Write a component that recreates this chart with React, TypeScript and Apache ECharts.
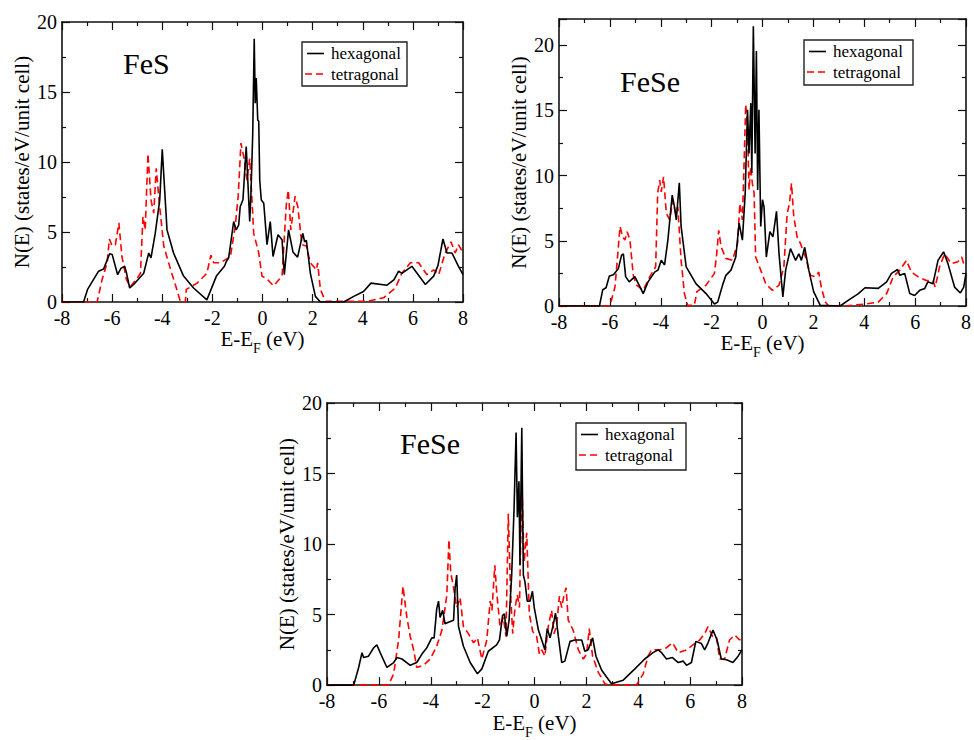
import React, { useEffect, useRef } from 'react';
import * as echarts from 'echarts';

const FONT = 'Liberation Serif';

const seriesNames = ['hexagonal', 'tetragonal'];
const panelTitles = ['FeS', 'FeSe', 'FeSe'];
const xRange = [-8, 8];
const yMaxes = [20, 22, 20];

// Panel 1: FeS
const fesHex: number[][] = [[-8,0],[-7.14,0],[-6.98,0.9],[-6.54,2.2],[-6.34,2.35],[-6.1,3.45],[-6.0,3.4],[-5.78,1.95],[-5.65,2.4],[-5.5,2.55],[-5.43,2.1],[-5.3,1.0],[-5.14,1.25],[-4.74,2.05],[-4.54,3.5],[-4.45,3.15],[-4.28,4.9],[-4.1,7.3],[-4.0,10.9],[-3.92,8.5],[-3.81,5.15],[-3.55,3.5],[-3.15,1.85],[-2.75,1.0],[-2.22,0.15],[-1.84,1.85],[-1.52,2.55],[-1.44,2.9],[-1.35,3.15],[-1.15,5.75],[-1.05,5.15],[-0.95,5.5],[-0.89,6.8],[-0.78,7.3],[-0.65,11.1],[-0.6,9.2],[-0.51,5.75],[-0.46,7.75],[-0.39,12.0],[-0.33,18.8],[-0.29,14.2],[-0.25,16.0],[-0.19,13.0],[-0.15,12.9],[-0.11,8.7],[-0.05,7.3],[0.05,7.05],[0.18,4.1],[0.31,5.75],[0.42,3.25],[0.62,4.8],[0.78,4.45],[0.87,1.95],[1.04,5.15],[1.22,3.55],[1.4,3.2],[1.61,4.9],[1.68,4.3],[1.75,4.4],[1.91,2.05],[2.11,0.4],[2.31,0],[3.24,0],[3.64,0.4],[4.03,0.75],[4.33,1.35],[4.97,1.2],[5.25,1.6],[5.43,2.2],[5.56,2.05],[5.96,2.55],[6.5,1.25],[6.83,1.85],[7.0,2.6],[7.2,4.5],[7.36,3.5],[7.56,3.5],[7.82,2.55],[8.0,1.95]];
const fesTet: number[][] = [[-8,0],[-6.6,0],[-6.4,1.6],[-6.2,2.8],[-6.11,4.5],[-6.0,4.0],[-5.87,4.1],[-5.73,5.65],[-5.61,3.25],[-5.43,1.6],[-5.27,1.1],[-5.0,1.7],[-4.87,2.05],[-4.77,6.1],[-4.68,5.15],[-4.57,10.6],[-4.45,7.3],[-4.34,6.35],[-4.24,9.55],[-4.13,7.3],[-3.94,4.0],[-3.68,2.4],[-3.48,1.25],[-3.28,0.05],[-3.08,0],[-3.04,0.9],[-2.61,1.35],[-2.22,2.05],[-2.06,3.35],[-1.95,2.8],[-1.68,2.8],[-1.28,3.25],[-1.09,5.4],[-0.97,7.55],[-0.86,11.35],[-0.75,10.4],[-0.62,8.7],[-0.51,10.25],[-0.46,8.6],[-0.35,4.9],[-0.15,3.5],[-0.02,1.85],[0.18,1.65],[0.44,1.15],[0.78,1.85],[0.95,6.95],[1.03,8.0],[1.13,5.15],[1.3,7.55],[1.41,6.8],[1.57,4.1],[1.75,4.0],[1.91,2.8],[2.15,2.3],[2.2,2.8],[2.31,0.9],[2.51,0.05],[4.17,0.05],[4.83,0.3],[5.3,1.0],[5.56,2.05],[5.9,2.8],[6.23,2.8],[6.56,1.95],[6.83,2.3],[7.03,1.95],[7.29,3.5],[7.52,4.3],[7.69,3.5],[7.82,4.1],[8.0,3.5]];

// Panel 2: FeSe (upper right)
const fese1Hex: number[][] = [[-8,0],[-6.41,0],[-6.28,1.25],[-6.15,1.4],[-6.02,2.3],[-5.86,2.4],[-5.67,2.85],[-5.54,3.9],[-5.47,4.0],[-5.38,2.25],[-5.24,1.85],[-5.02,2.25],[-4.85,1.6],[-4.69,0.95],[-4.5,1.85],[-4.24,2.6],[-4.11,2.75],[-3.98,3.5],[-3.85,3.15],[-3.72,5.05],[-3.55,8.5],[-3.46,7.6],[-3.39,6.6],[-3.27,9.45],[-3.2,6.1],[-3.0,3.0],[-2.61,1.7],[-2.22,0.95],[-1.89,0.15],[-1.76,0.3],[-1.57,1.6],[-1.44,2.35],[-1.24,2.75],[-1.05,3.75],[-0.92,6.35],[-0.79,5.05],[-0.68,8.65],[-0.59,15.05],[-0.53,11.7],[-0.46,15.55],[-0.42,10.2],[-0.36,21.45],[-0.29,11.7],[-0.24,19.55],[-0.19,8.9],[-0.14,15.05],[-0.07,6.1],[0.0,8.15],[0.06,7.6],[0.15,3.75],[0.29,5.7],[0.41,5.3],[0.55,7.25],[0.65,4.0],[0.8,0.7],[0.91,2.75],[1.1,4.4],[1.3,3.5],[1.43,4.0],[1.53,3.5],[1.66,4.5],[1.82,2.75],[2.01,1.1],[2.27,0.05],[3.05,0],[3.38,0.45],[3.77,0.95],[4.03,1.4],[4.55,1.35],[4.88,1.85],[5.07,2.5],[5.31,2.8],[5.4,2.35],[5.59,2.5],[5.79,0.95],[5.98,0.8],[6.18,1.2],[6.38,1.35],[6.5,1.85],[6.7,1.7],[6.9,3.5],[7.12,4.15],[7.29,3.25],[7.55,1.45],[7.78,1.0],[7.91,1.45],[8.0,2.5]];
const fese1Tet: number[][] = [[-8,0],[-6.0,0],[-5.8,1.45],[-5.71,3.5],[-5.6,6.1],[-5.5,5.3],[-5.41,5.05],[-5.32,5.7],[-5.21,5.05],[-5.08,2.35],[-4.95,1.6],[-4.69,1.2],[-4.43,2.25],[-4.2,3.0],[-4.12,8.65],[-4.04,9.65],[-3.98,8.75],[-3.89,9.9],[-3.78,7.1],[-3.65,6.6],[-3.52,8.1],[-3.42,7.1],[-3.33,7.6],[-3.2,3.5],[-3.07,0.95],[-2.94,0.05],[-2.68,0.05],[-2.58,1.1],[-2.22,1.6],[-1.89,2.5],[-1.8,4.0],[-1.72,5.8],[-1.63,4.55],[-1.44,3.65],[-1.18,3.5],[-0.98,4.8],[-0.89,7.85],[-0.79,6.6],[-0.72,11.2],[-0.66,15.45],[-0.59,13.75],[-0.53,8.9],[-0.46,10.7],[-0.4,9.4],[-0.33,8.65],[-0.27,3.75],[-0.07,2.75],[0.13,1.7],[0.39,1.2],[0.65,1.6],[0.84,3.0],[0.97,7.1],[1.06,7.85],[1.14,9.4],[1.23,6.85],[1.36,5.3],[1.49,4.8],[1.69,3.75],[1.88,2.35],[2.08,2.25],[2.21,2.6],[2.31,1.45],[2.47,0.3],[2.6,0],[3.25,0],[4.03,0.15],[4.55,0.3],[4.88,0.95],[5.14,2.25],[5.4,2.75],[5.66,3.5],[5.85,2.6],[6.11,2.25],[6.44,1.95],[6.7,1.95],[6.79,1.45],[6.96,3.0],[7.16,4.0],[7.42,3.25],[7.68,3.4],[7.83,3.75],[7.91,3.25],[8.0,3.4]];

// Panel 3: FeSe (bottom)
const fese2Hex: number[][] = [[-8,0],[-6.97,0],[-6.78,1.25],[-6.65,2.3],[-6.59,1.95],[-6.4,2.05],[-6.2,2.65],[-6.08,2.85],[-5.95,2.3],[-5.69,1.25],[-5.43,1.6],[-5.3,1.95],[-5.11,1.85],[-4.79,1.4],[-4.54,1.6],[-4.34,2.2],[-4.15,2.65],[-3.96,3.35],[-3.87,3.35],[-3.77,5.4],[-3.7,5.95],[-3.64,4.8],[-3.54,5.3],[-3.45,4.35],[-3.32,4.45],[-3.12,4.6],[-3.06,6.9],[-3.0,7.8],[-2.93,4.15],[-2.74,2.75],[-2.48,1.6],[-2.2,0.8],[-2.03,1.15],[-1.78,2.4],[-1.46,2.85],[-1.35,3.2],[-1.23,4.95],[-1.16,5.05],[-1.07,3.45],[-0.98,4.6],[-0.88,7.8],[-0.79,12.4],[-0.71,17.9],[-0.66,11.9],[-0.6,14.45],[-0.56,8.5],[-0.49,18.25],[-0.43,7.8],[-0.37,7.35],[-0.28,5.95],[-0.17,5.95],[-0.08,6.65],[-0.01,5.5],[0.15,3.9],[0.28,3.2],[0.4,2.5],[0.49,4.0],[0.6,3.35],[0.72,4.25],[0.81,5.1],[0.92,3.45],[1.05,1.6],[1.17,1.7],[1.37,3.1],[1.56,3.2],[1.82,3.2],[1.94,2.4],[2.07,2.5],[2.24,3.35],[2.37,2.05],[2.59,1.05],[2.97,0.1],[3.42,0.35],[3.87,1.15],[4.25,1.85],[4.57,2.3],[4.77,2.5],[4.9,2.3],[5.09,1.85],[5.32,1.95],[5.54,1.6],[5.73,1.7],[5.86,1.4],[6.05,1.6],[6.22,3.1],[6.43,2.95],[6.56,2.5],[6.69,3.0],[6.88,3.9],[7.04,3.2],[7.2,1.85],[7.4,1.8],[7.65,1.6],[7.85,2.05],[8.0,2.5]];
const fese2Tet: number[][] = [[-8,0],[-5.63,0],[-5.43,0.8],[-5.24,3.2],[-5.07,7.0],[-4.92,4.8],[-4.79,3.45],[-4.66,2.5],[-4.54,1.25],[-4.28,1.4],[-4.02,1.85],[-3.77,2.75],[-3.57,3.9],[-3.48,5.05],[-3.38,6.4],[-3.3,10.3],[-3.23,8.0],[-3.12,6.9],[-3.0,5.5],[-2.87,6.2],[-2.74,4.15],[-2.55,3.65],[-2.35,3.0],[-2.2,3.35],[-2.03,1.85],[-1.84,3.2],[-1.71,5.95],[-1.64,5.3],[-1.53,8.5],[-1.46,6.65],[-1.33,4.15],[-1.2,4.8],[-1.1,3.45],[-1.01,12.15],[-0.92,6.4],[-0.84,3.65],[-0.75,5.5],[-0.66,6.4],[-0.58,5.5],[-0.49,14.35],[-0.4,8.7],[-0.3,10.8],[-0.2,5.05],[-0.07,3.8],[0.08,3.45],[0.19,2.2],[0.28,2.5],[0.4,2.05],[0.53,4.15],[0.66,5.3],[0.75,3.65],[0.85,4.15],[0.96,6.3],[1.05,5.5],[1.14,6.4],[1.22,6.9],[1.3,4.6],[1.49,3.9],[1.69,2.5],[1.88,1.85],[2.01,2.2],[2.11,4.0],[2.24,2.05],[2.46,0.9],[2.71,0.1],[2.9,0],[3.93,0],[4.19,0.8],[4.38,2.05],[4.51,2.5],[4.83,2.5],[5.09,2.65],[5.32,3.0],[5.54,2.3],[5.86,2.5],[6.11,2.85],[6.37,3.2],[6.56,3.65],[6.69,4.15],[6.86,3.45],[7.01,3.45],[7.14,1.85],[7.33,1.85],[7.52,3.2],[7.72,3.55],[7.91,3.2],[8.0,3.45]];

const panelHex = [fesHex, fese1Hex, fese2Hex];
const panelTet = [fesTet, fese1Tet, fese2Tet];

const grids = [
  { left: 62, top: 22, width: 401, height: 280 },
  { left: 559, top: 19, width: 409, height: 287 },
  { left: 327, top: 403, width: 415, height: 290 },
];
const titlePos = [[123, 63], [620, 81], [400, 443]];
const legendBox = [[302, 42, 105, 44], [804, 40, 109, 45], [576, 423, 110, 47]];

const AX = '#111';
const RED = '#ff0000';

export default function App() {
  const ref = useRef<HTMLDivElement>(null);
  useEffect(() => {
    if (!ref.current) return;
    const chart = echarts.init(ref.current, null, { renderer: 'svg' });
    const xAxes: any[] = [];
    const yAxes: any[] = [];
    const series: any[] = [];
    const graphic: any[] = [];
    grids.forEach((g, i) => {
      const mk = () => ({
        axisLine: { show: true, onZero: false, lineStyle: { color: AX, width: 1.6 } },
        axisTick: { inside: true, length: 8, lineStyle: { color: AX, width: 1.2 } },
        minorTick: { show: true, splitNumber: 2, length: 4, lineStyle: { color: AX, width: 1.2 } },
        splitLine: { show: false },
      });
      xAxes.push({
        type: 'value', gridIndex: i, min: xRange[0], max: xRange[1], interval: 2, ...mk(), position: 'bottom',
        axisLabel: { fontFamily: FONT, fontSize: 20, color: '#000', margin: 6 },
        name: '{m|E-E}{s|F}{m| (eV)}', nameLocation: 'middle', nameGap: 21,
        nameTextStyle: {
          fontFamily: FONT, fontSize: 21, color: '#000',
          rich: {
            m: { fontFamily: FONT, fontSize: 21, color: '#000', verticalAlign: 'top' },
            s: { fontFamily: FONT, fontSize: 14, color: '#000', verticalAlign: 'top', padding: [13, 0, 0, 0] },
          },
        },
      });
      xAxes.push({ type: 'value', gridIndex: i, min: xRange[0], max: xRange[1], interval: 2, ...mk(), position: 'top', axisLabel: { show: false } });
      yAxes.push({
        type: 'value', gridIndex: i, min: 0, max: yMaxes[i], interval: 5, ...mk(), position: 'left',
        axisLabel: { fontFamily: FONT, fontSize: 20, color: '#000', margin: 5, showMaxLabel: yMaxes[i] % 5 === 0 },
        name: 'N(E) (states/eV/unit cell)', nameLocation: 'middle', nameGap: 30,
        nameTextStyle: { fontFamily: FONT, fontSize: 21, color: '#000' },
      });
      yAxes.push({ type: 'value', gridIndex: i, min: 0, max: yMaxes[i], interval: 5, ...mk(), position: 'right', axisLabel: { show: false } });
      series.push({
        name: seriesNames[0], type: 'line', xAxisIndex: 2 * i, yAxisIndex: 2 * i,
        data: panelHex[i], showSymbol: false, symbol: 'none',
        lineStyle: { color: '#000', width: 1.6 }, z: 3,
      });
      series.push({
        name: seriesNames[1], type: 'line', xAxisIndex: 2 * i, yAxisIndex: 2 * i,
        data: panelTet[i], showSymbol: false, symbol: 'none',
        lineStyle: { color: RED, width: 1.6, type: [7, 4] }, z: 2,
      });
      const [tx, ty] = titlePos[i];
      graphic.push({ type: 'text', x: tx, y: ty, style: { text: panelTitles[i], fontFamily: FONT, fontSize: 30, fill: '#000', textAlign: 'left', textVerticalAlign: 'middle' } });
      const [bx, by, bw, bh] = legendBox[i];
      const r1 = by + 11.5, r2 = by + 32;
      graphic.push({ type: 'rect', shape: { x: bx, y: by, width: bw, height: bh }, style: { fill: '#fff', stroke: '#222', lineWidth: 1.4 }, z: 10 });
      graphic.push({ type: 'line', shape: { x1: bx + 5, y1: r1, x2: bx + 22, y2: r1 }, style: { stroke: '#000', lineWidth: 1.6 }, z: 11 });
      graphic.push({ type: 'line', shape: { x1: bx + 3, y1: r2, x2: bx + 24, y2: r2 }, style: { stroke: RED, lineWidth: 1.6, lineDash: [7, 4] }, z: 11 });
      graphic.push({ type: 'text', x: bx + 29, y: r1, style: { text: seriesNames[0], fontFamily: FONT, fontSize: 17, fill: '#000', textVerticalAlign: 'middle' }, z: 11 });
      graphic.push({ type: 'text', x: bx + 29, y: r2, style: { text: seriesNames[1], fontFamily: FONT, fontSize: 17, fill: '#000', textVerticalAlign: 'middle' }, z: 11 });
    });
    chart.setOption({
      animation: false,
      backgroundColor: '#fff',
      grid: grids.map((g) => ({ ...g, containLabel: false, show: false })),
      xAxis: xAxes,
      yAxis: yAxes,
      series,
      graphic,
    });
    return () => chart.dispose();
  }, []);
  return <div ref={ref} style={{ position: 'fixed', left: 0, top: 0, width: 974, height: 740, background: '#fff' }} />;
}
